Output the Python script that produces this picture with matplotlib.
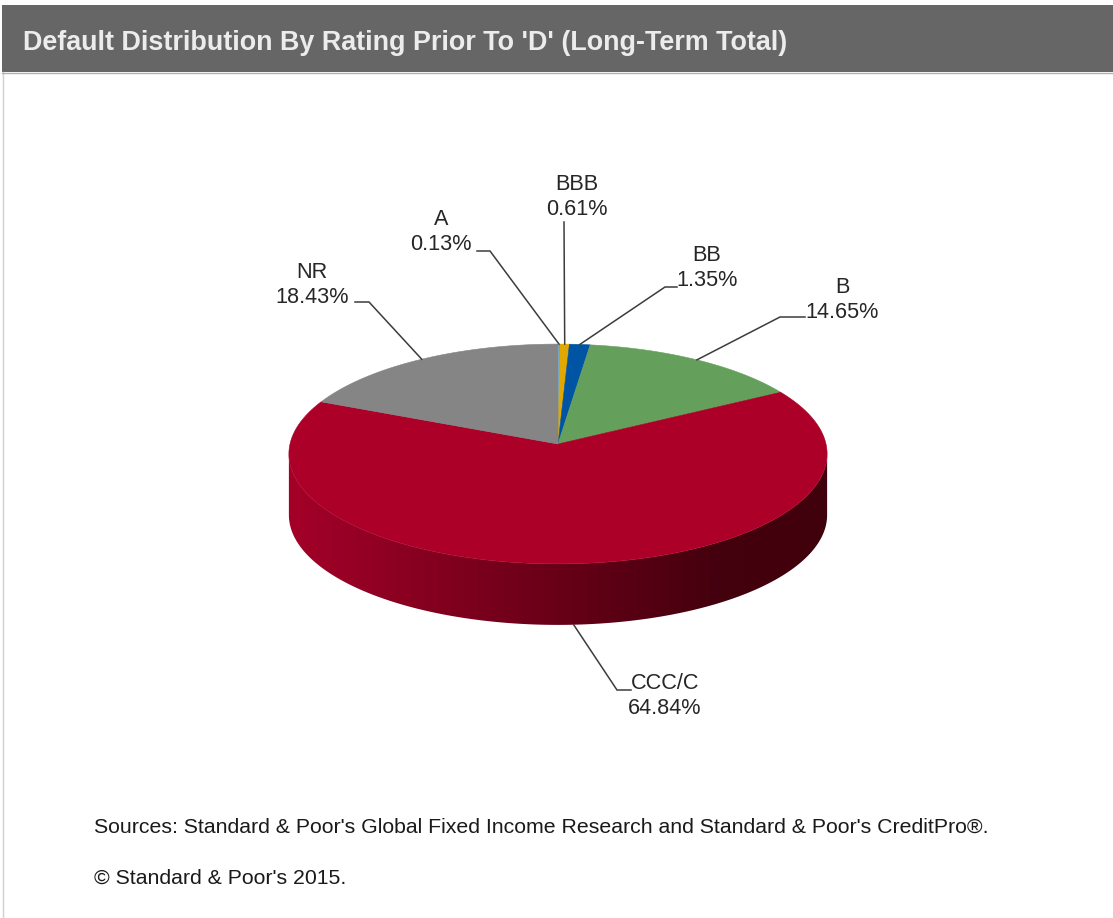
import numpy as np
import matplotlib
matplotlib.use("Agg")
import matplotlib.pyplot as plt
from matplotlib.colors import LinearSegmentedColormap
from matplotlib.patches import Polygon, Rectangle

plt.rcParams['font.family'] = ['Liberation Sans', 'DejaVu Sans']

categories = ['A', 'BBB', 'BB', 'B', 'CCC/C', 'NR']
shares = [0.13, 0.61, 1.35, 14.65, 64.84, 18.43]
colors = ['#4a9fd0', '#e0a800', '#0054a4', '#659f5c', '#ad0028', '#858585']
title = "Default Distribution By Rating Prior To 'D' (Long-Term Total)"
source_lines = ["Sources: Standard & Poor's Global Fixed Income Research and Standard & Poor's CreditPro®.",
                "© Standard & Poor's 2015."]
# label block centre and leader elbow/end per category (layout, pixels)
label_pos = {'A': (441, 232), 'BBB': (577, 197), 'BB': (707, 268), 'B': (842, 300),
             'CCC/C': (665, 696), 'NR': (312, 285)}
elbow = {'A': [(477, 251), (490, 251)], 'BBB': [(564, 222), (564, 222)],
         'BB': [(677, 287), (665, 287)], 'B': [(805, 317), (780, 317)],
         'CCC/C': [(631, 690), (617, 690)], 'NR': [(355, 302), (369, 302)]}

fig = plt.figure(figsize=(11.13, 9.18), dpi=100)
ax = fig.add_axes([0, 0, 1, 1])
ax.axis('off')

# frame and title bar
ax.add_patch(Rectangle((2, 5), 1111, 67, fc='#666666', ec='none'))
ax.plot([2.5, 2.5], [72, 918], color='#d0d0d0', lw=1)
ax.plot([2, 1113], [72.5, 72.5], color='#b0b0b0', lw=1)
ax.text(23, 42.5, title, color='#ececec', fontsize=19.4, fontweight='bold', va='center', ha='left')

# projected pie
CX, CY, A, B, K, C, DEPTH = 558, 454, 268, 109, 0.0909, 10, 61


def project(theta):
    u, v = np.sin(theta), np.cos(theta)
    w = 1 + K * v
    return CX + A * u / w, CY - (B * v / w + C)


apex = (CX, CY - C)
edges = 2 * np.pi * np.concatenate([[0], np.cumsum(shares)]) / sum(shares)

# extruded wall of the large slice: a horizontal shade clipped to the front part of its rim
i_big = categories.index('CCC/C')
t = np.linspace(edges[i_big], edges[i_big + 1], 800)
xs, ys = project(t)
front = slice(int(np.argmax(xs)), int(np.argmin(xs)) + 1)
xf, yf = xs[front], ys[front]
wall = Polygon(list(zip(xf, yf)) + list(zip(xf[::-1], yf[::-1] + DEPTH)), fc='none', ec='none',
               transform=ax.transData)
ax.add_patch(wall)
shade = LinearSegmentedColormap.from_list('wall', [(0, '#a40028'), (0.8, '#44000e'), (1, '#40000c')])
im = ax.imshow(np.linspace(0, 1, 540)[None, :], extent=(288, 828, 700, 400), cmap=shade, aspect='auto',
               interpolation='bilinear', zorder=1)
im.set_clip_path(wall)

# top faces
for i in range(len(shares)):
    t = np.linspace(edges[i], edges[i + 1], 200)
    x, y = project(t)
    pts = [apex] + list(zip(x, y))
    ax.add_patch(Polygon(pts, fc=colors[i], ec=colors[i], lw=0.4, zorder=2))

# leaders and labels
for i, cat in enumerate(categories):
    mid = 0.5 * (edges[i] + edges[i + 1])
    x0, y0 = project(mid)
    if cat == 'CCC/C':
        y0 += DEPTH
    (x2, y2), (x1, y1) = elbow[cat]
    ax.plot([x0, x1, x2], [y0, y1, y2], color='#3c3c3c', lw=1.1, solid_joinstyle='miter', zorder=3)
    lx, ly = label_pos[cat]
    ax.text(lx, ly, f"{cat}\n{shares[i]:.2f}%", ha='center', va='center', fontsize=15.6,
            color='#262626', linespacing=1.2)

ax.text(94, 827, source_lines[0], fontsize=15.3, color='#1a1a1a', va='center', ha='left')
ax.text(94, 878, source_lines[1], fontsize=15.3, color='#1a1a1a', va='center', ha='left')

ax.set_xlim(0, 1113)
ax.set_ylim(918, 0)
fig.savefig('out.png', dpi=100)
